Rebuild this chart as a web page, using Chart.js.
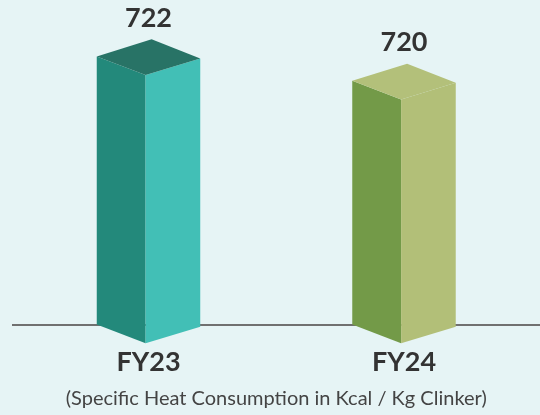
<!DOCTYPE html>
<html>
<head>
<meta charset="utf-8">
<script src="https://cdn.jsdelivr.net/npm/chart.js@4.4.1/dist/chart.umd.min.js"></script>
<style>
    body { margin: 0; background: #e6f4f5; }
</style>
</head>
<body>
<canvas id="grafico" width="540" height="415"></canvas>
<script>
const anos = ['FY23', 'FY24'];
const consumo = [722, 720];
const legendaEixo = '(Specific Heat Consumption in Kcal / Kg Clinker)';

const coresFrente = ['#23897b', '#739a48'];
const coresLado = ['#42bfb6', '#b2bf78'];
const coresTopo = ['#287366', '#b3c07a'];

function poligono(ctx, pontos, cor) {
    ctx.beginPath();
    ctx.moveTo(pontos[0][0], pontos[0][1]);
    for (let k = 1; k < pontos.length; k++) {
        ctx.lineTo(pontos[k][0], pontos[k][1]);
    }
    ctx.closePath();
    ctx.fillStyle = cor;
    ctx.fill();
}

// desenha as barras como prismas 3D
const prisma = {
    id: 'prisma',
    beforeDatasetsDraw(chart) {
        const ctx = chart.ctx;
        const base = chart.scales.y.getPixelForValue(chart.scales.y.min);
        ctx.save();
        ctx.strokeStyle = '#707070';
        ctx.lineWidth = 2;
        ctx.beginPath();
        ctx.moveTo(12, base + 0.5);
        ctx.lineTo(chart.width, base + 0.5);
        ctx.stroke();
        ctx.restore();
    },
    afterDatasetsDraw(chart) {
        const ctx = chart.ctx;
        const base = chart.scales.y.getPixelForValue(chart.scales.y.min);
        ctx.save();
        chart.getDatasetMeta(0).data.forEach(function (bar, i) {
            const w = bar.width;
            const x0 = bar.x - w / 2;
            const x1 = bar.x + w / 2;
            const xm = x0 + w * 0.472;
            const xa = x0 + w * 0.53;
            const topo = bar.y;
            const frente = w * 0.18;
            const lado = w * 0.02;
            const apice = w * 0.165;

            poligono(ctx, [[x0, topo], [xm, topo + frente], [xm, base + frente], [x0, base]], coresFrente[i]);
            poligono(ctx, [[xm, topo + frente], [x1, topo + lado], [x1, base + lado], [xm, base + frente]], coresLado[i]);
            poligono(ctx, [[x0, topo], [xa, topo - apice], [x1, topo + lado], [xm, topo + frente]], coresTopo[i]);

            ctx.fillStyle = '#333333';
            ctx.font = 'bold 27px Lato';
            ctx.textAlign = 'center';
            ctx.textBaseline = 'middle';
            ctx.fillText(consumo[i], bar.x, topo - 38);
        });
        ctx.restore();
    }
};

const ctx = document.getElementById('grafico').getContext('2d');
new Chart(ctx, {
    type: 'bar',
    data: {
        labels: anos,
        datasets: [{
            data: consumo,
            backgroundColor: 'rgba(0,0,0,0)',
            categoryPercentage: 1,
            barPercentage: 0.405
        }]
    },
    options: {
        responsive: false,
        animation: false,
        layout: { padding: { left: 20.75, right: 8.25, top: 32, bottom: 4 } },
        plugins: {
            legend: { display: false },
            tooltip: { enabled: false }
        },
        scales: {
            y: { display: false, min: 700, max: 724 },
            x: {
                grid: { display: false, drawTicks: false },
                border: { display: false },
                ticks: {
                    color: '#333333',
                    font: { family: 'Lato', size: 27, weight: 'bold' },
                    padding: 21
                },
                title: {
                    display: true,
                    text: legendaEixo,
                    color: '#444444',
                    font: { family: 'Lato', size: 20 },
                    padding: { top: -12, bottom: 0 }
                }
            }
        }
    },
    plugins: [prisma]
});
</script>
</body>
</html>
